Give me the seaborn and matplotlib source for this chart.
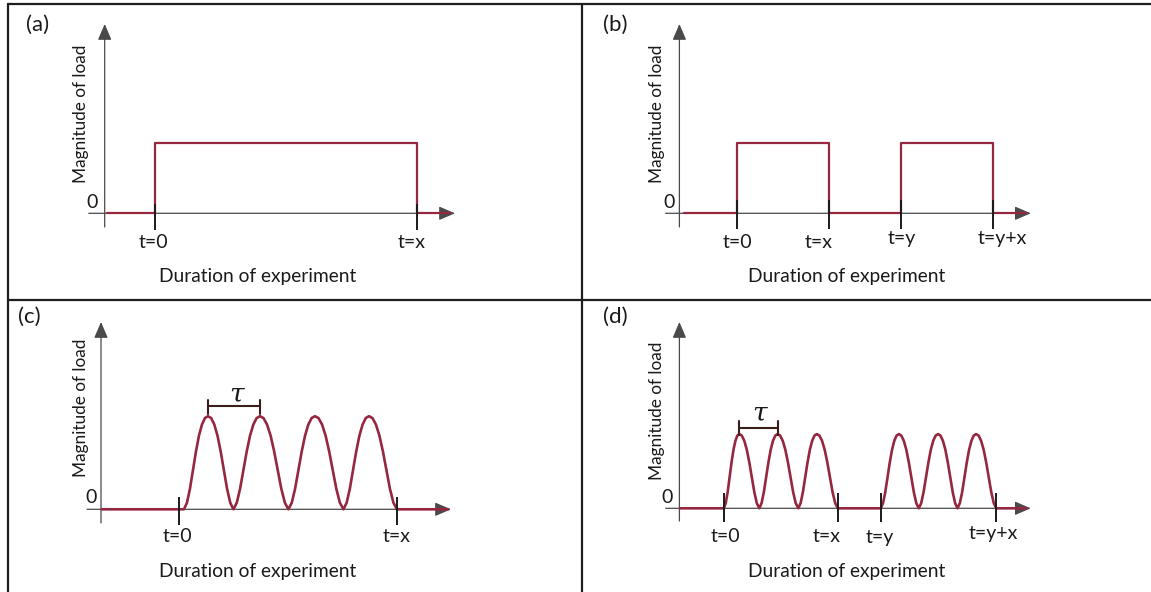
import matplotlib
matplotlib.use("Agg")
import matplotlib.pyplot as plt
from matplotlib.lines import Line2D
import numpy as np
import pandas as pd
import seaborn as sns

# ---------------- data ----------------
PANEL_IDS = ["(a)", "(b)", "(c)", "(d)"]
Y_LABEL = "Magnitude of load"
X_LABEL = "Duration of experiment"
ZERO_LABEL = "0"
PERIOD_LABEL = "τ"

# (a) constant load
a_time = [-19.0, 0.0, 0.0, 105.0, 105.0, 118.0]
a_load = [0, 0, 1.0, 1.0, 0, 0]
a_ticks = [0.0, 105.0]
a_tick_labels = ["t=0", "t=x"]

# (b) two constant-load blocks
b_time = [-21.4, 0.0, 0.0, 36.8, 36.8, 65.6, 65.6, 102.1, 102.1, 115.5]
b_load = [0, 0, 1.0, 1.0, 0, 0, 1.0, 1.0, 0, 0]
b_ticks = [0.0, 36.8, 65.6, 102.1]
b_tick_labels = ["t=0", "t=x", "t=y", "t=y+x"]

# cyclic loading: shape of a half cycle (trough -> peak), fraction of peak
HALF_CYCLE_SHAPE = [0.0, 0.07, 0.22, 0.42, 0.62, 0.79, 0.91, 0.98, 1.0]

# (c) one block of cycles: (start, peak, end) times
c_cycles = [(2.1, 11.7, 21.9), (21.9, 32.5, 43.9), (43.9, 54.5, 65.9), (65.9, 76.1, 87.3)]
c_peak = 1.33
c_lead, c_tail = -30.8, 107.8
c_ticks = [0.0, 87.3]
c_tick_labels = ["t=0", "t=x"]
c_tau = (11.7, 32.5)

# (d) two blocks of cycles
d_cycles = [(0.0, 6.2, 14.2), (14.2, 21.5, 29.8), (29.8, 37.2, 45.6),
            (62.8, 70.0, 78.0), (78.0, 85.7, 93.5), (93.5, 100.9, 109.0)]
d_peak = 1.06
d_lead, d_tail = -17.5, 121.0
d_ticks = [0.0, 45.6, 62.8, 109.0]
d_tick_labels = ["t=0", "t=x", "t=y", "t=y+x"]
d_tau = (6.2, 21.5)


def cyclic_series(cycles, peak, lead, tail):
    t, v = [lead], [0.0]
    n = len(HALF_CYCLE_SHAPE) - 1
    for s, p, e in cycles:
        for k, f in enumerate(HALF_CYCLE_SHAPE):
            t.append(s + (p - s) * k / n); v.append(peak * f)
        for k, f in enumerate(HALF_CYCLE_SHAPE[::-1]):
            if k == 0:
                continue
            t.append(p + (e - p) * k / n); v.append(peak * f)
    t.append(tail); v.append(0.0)
    return t, v


c_time, c_load = cyclic_series(c_cycles, c_peak, c_lead, c_tail)
d_time, d_load = cyclic_series(d_cycles, d_peak, d_lead, d_tail)

# ---------------- style / layout ----------------
sns.set_theme(style="white")
plt.rcParams["font.family"] = ["Lato", "DejaVu Sans"]

SIG = "#962740"
AXC = "#4a4a4a"
INK = "#1a1a1a"
BRK = "#3a1d18"

W, H = 1151, 592
fig = plt.figure(figsize=(W / 100, H / 100), dpi=100)
fig.patch.set_facecolor("white")
PX_T, PX_L = 2.5, 70.0

LAYOUT = [
    dict(cell=(8, 4, 582, 300), t0=154.6, base=213.3, yax=104.7, ytop=24, ybot=227,
         xstart=88.8, xtip=455, tk=(204, 230),
         tlab=[(153.5, 242.7), (411.8, 242.7)], zero=(92.5, 203), ylab=(80.6, 114),
         xlab=(257.6, 276.7), pid=(37.9, 25), lw=1.6),
    dict(cell=(582, 4, 1151, 300), t0=737.3, base=213.3, yax=679.4, ytop=24, ybot=227,
         xstart=665.6, xtip=1030.8, tk=(200, 229),
         tlab=[(737, 242.7), (819, 242.7), (902, 238.3), (1002, 238.3)],
         zero=(669, 203), ylab=(657, 114), xlab=(846.8, 276.7), pid=(615, 25), lw=1.6),
    dict(cell=(8, 300, 582, 592), t0=178.7, base=509.3, yax=101, ytop=322, ybot=523,
         xstart=87, xtip=451, tk=(497, 525),
         tlab=[(177.6, 536.7), (397, 536.7)], zero=(90.6, 497.7), ylab=(80.6, 407.7),
         xlab=(257.7, 571), pid=(28.9, 316.7), lw=1.9,
         brk=(406, 400, 414), taupos=(237, 394)),
    dict(cell=(582, 300, 1151, 592), t0=723.8, base=508.3, yax=679.4, ytop=322, ybot=521,
         xstart=665.6, xtip=1030.8, tk=(493, 522),
         tlab=[(725, 536.7), (827, 536.7), (879.7, 537.7), (993.3, 533.3)],
         zero=(667.4, 497.7), ylab=(657.2, 411), xlab=(846.8, 571), pid=(615.3, 316.7), lw=1.9,
         brk=(427.5, 421, 435), taupos=(760, 413)),
]

SERIES = [(a_time, a_load, a_ticks, a_tick_labels, None),
          (b_time, b_load, b_ticks, b_tick_labels, None),
          (c_time, c_load, c_ticks, c_tick_labels, c_tau),
          (d_time, d_load, d_ticks, d_tick_labels, d_tau)]

for pid, lay, (tt, ll, ticks, tlabels, tau) in zip(PANEL_IDS, LAYOUT, SERIES):
    x0, y0, x1, y1 = lay["cell"]
    t0, base = lay["t0"], lay["base"]
    ax = fig.add_axes([x0 / W, 1 - y1 / H, (x1 - x0) / W, (y1 - y0) / H])
    tx = lambda px, t0=t0: (px - t0) / PX_T
    ly = lambda py, base=base: (base - py) / PX_L

    df = pd.DataFrame({"time": tt, "load": ll})
    sns.lineplot(data=df, x="time", y="load", sort=False, estimator=None, ax=ax,
                 color=SIG, lw=lay["lw"], zorder=3, solid_joinstyle="round")

    # axes with arrowheads
    arrow = dict(arrowstyle="-|>,head_length=0.7,head_width=0.3", color=AXC, lw=0.9,
                 shrinkA=0, shrinkB=0, mutation_scale=14)
    ax.annotate("", xy=(tx(lay["xtip"]), 0), xytext=(tx(lay["xstart"]), 0),
                arrowprops=arrow, annotation_clip=False, zorder=1)
    ax.annotate("", xy=(tx(lay["yax"]), ly(lay["ytop"])),
                xytext=(tx(lay["yax"]), ly(lay["ybot"])),
                arrowprops=arrow, annotation_clip=False, zorder=1)

    # ticks
    for t in ticks:
        ax.plot([t, t], [ly(lay["tk"][0]), ly(lay["tk"][1])], color=INK, lw=1.4,
                zorder=4, solid_capstyle="butt")
    for lab, (px, py) in zip(tlabels, lay["tlab"]):
        ax.text(tx(px), ly(py), lab, ha="center", va="center", fontsize=14, color=INK)

    ax.text(tx(lay["zero"][0]), ly(lay["zero"][1]), ZERO_LABEL, ha="center", va="center",
            fontsize=14, color=INK)
    ax.text(tx(lay["ylab"][0]), ly(lay["ylab"][1]), Y_LABEL, rotation=90, ha="center",
            va="center", fontsize=12.4, color=INK)
    ax.text(tx(lay["xlab"][0]), ly(lay["xlab"][1]), X_LABEL, ha="center", va="center",
            fontsize=13.8, color=INK)
    ax.text(tx(lay["pid"][0]), ly(lay["pid"][1]), pid, ha="center", va="center",
            fontsize=16, color=INK)

    if tau is not None:
        yb, ye0, ye1 = lay["brk"]
        ax.plot([tau[0], tau[1]], [ly(yb), ly(yb)], color=BRK, lw=1.5, zorder=5)
        for t in tau:
            ax.plot([t, t], [ly(ye0), ly(ye1)], color=BRK, lw=1.5, zorder=5)
        ax.text(tx(lay["taupos"][0]), ly(lay["taupos"][1]), PERIOD_LABEL, ha="center",
                va="center", fontsize=19, color=INK, family="DejaVu Serif", style="italic")

    ax.set_xlim((x0 - t0) / PX_T, (x1 - t0) / PX_T)
    ax.set_ylim((base - y1) / PX_L, (base - y0) / PX_L)
    ax.set_axis_off()
    if ax.get_legend():
        ax.get_legend().remove()

# panel borders
BORDER = "#1e1e1e"
for (xa, ya, xb, yb) in [(8, 4, 1151, 4), (8, 300, 1151, 300), (8, 4, 8, 592), (582, 4, 582, 592)]:
    fig.add_artist(Line2D([xa / W, xb / W], [1 - ya / H, 1 - yb / H], color=BORDER, lw=1.6,
                          transform=fig.transFigure))

fig.savefig("out.png", dpi=100, facecolor="white")
